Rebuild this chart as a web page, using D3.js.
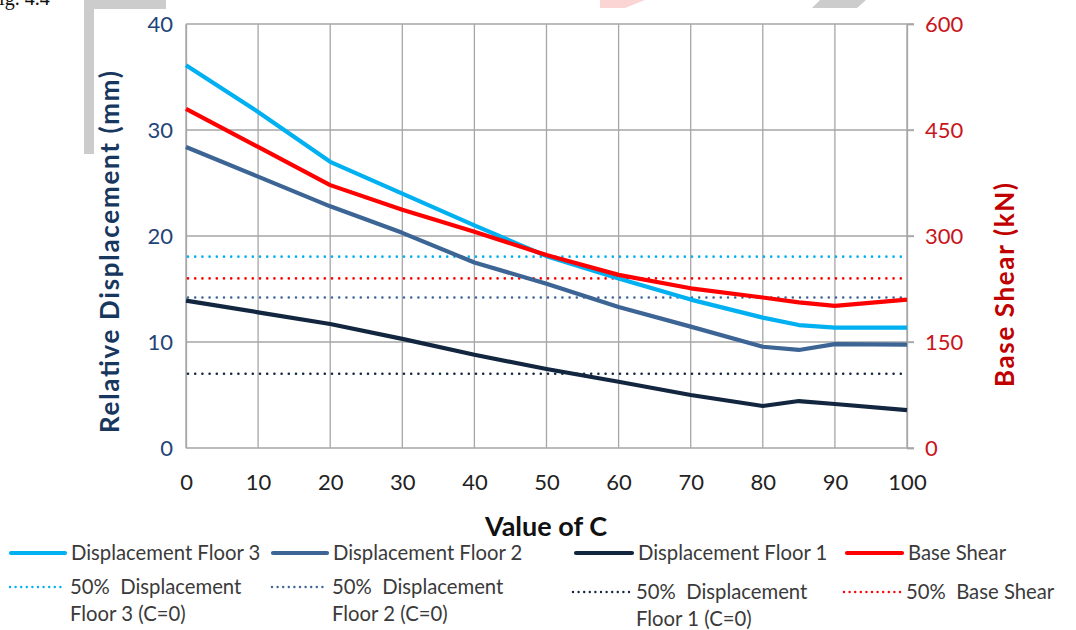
<!DOCTYPE html>
<html>
<head>
<meta charset="utf-8">
<script src="https://cdn.jsdelivr.net/npm/d3@7"></script>
<style>
  body { margin: 0; background: white; }
  svg { display: block; }
</style>
</head>
<body>
<svg></svg>
<script>
var w = 1076
var h = 630

// data
var cValues   = [0, 10, 20, 30, 40, 50, 60, 70, 80, 85, 90, 100]
var floor3    = [36.1, 31.7, 27.0, 24.0, 21.0, 18.1, 16.0, 14.0, 12.3, 11.6, 11.35, 11.35]
var floor2    = [28.4, 25.6, 22.8, 20.3, 17.5, 15.5, 13.3, 11.45, 9.55, 9.25, 9.8, 9.75]
var floor1    = [13.9, 12.8, 11.7, 10.3, 8.8, 7.45, 6.25, 5.0, 3.96, 4.43, 4.15, 3.58]
var baseShear = [480, 426, 372, 337, 306, 273, 245, 226, 213, 206, 201, 210]

// 50% of C=0 values (dotted lines)
var half3 = 18.05
var half2 = 14.2
var half1 = 7.0
var halfShear = 240

var xTicks = [0, 10, 20, 30, 40, 50, 60, 70, 80, 90, 100]
var leftTicks = [0, 10, 20, 30, 40]
var rightTicks = [0, 150, 300, 450, 600]

var cFloor3 = "#00b0f0"
var cFloor2 = "#3c6596"
var cFloor1 = "#12263f"
var cShear = "#ff0000"
var grid = "#a6a6a6"
var font = "Lato, 'Open Sans', sans-serif"

var pLeft = 186, pRight = 907, pTop = 24, pBottom = 448

var svg = d3.select("svg")
    .attr("width", w)
    .attr("height", h)

// bits of the page around the chart
svg.append("rect").attr("x", 84).attr("y", 0).attr("width", 10).attr("height", 154).attr("fill", "#cccccc")
svg.append("rect").attr("x", 84).attr("y", 0).attr("width", 82).attr("height", 9).attr("fill", "#cccccc")
svg.append("polygon").attr("points", "600,0 645,0 625,8 600,8").attr("fill", "#fbd4d4")
svg.append("polygon").attr("points", "820,0 866,0 857,8 812,8").attr("fill", "#cccccc")
svg.append("text").attr("x", -12).attr("y", 5)
    .style("font-family", "'Liberation Serif', serif").style("font-size", "20px")
    .attr("fill", "#111").text("Fig. 4.4")

var x = d3.scaleLinear().domain([0, 100]).range([pLeft, pRight])
var yL = d3.scaleLinear().domain([0, 40]).range([pBottom, pTop])
var yR = d3.scaleLinear().domain([0, 600]).range([pBottom, pTop])

// grid
svg.append("g").selectAll("line").data(xTicks).join("line")
    .attr("x1", d => x(d)).attr("x2", d => x(d))
    .attr("y1", pTop).attr("y2", pBottom)
    .attr("stroke", grid).attr("stroke-width", 1.3)
svg.append("g").selectAll("line").data(leftTicks).join("line")
    .attr("x1", pLeft).attr("x2", pRight + 7)
    .attr("y1", d => yL(d)).attr("y2", d => yL(d))
    .attr("stroke", grid).attr("stroke-width", 1.3)

// left axis labels
var gl = svg.append("g").attr("transform", "translate(" + pLeft + ",0)")
    .call(d3.axisLeft(yL).tickValues(leftTicks).tickSize(0).tickPadding(13))
gl.select(".domain").attr("stroke", grid).attr("stroke-width", 1.3)
gl.selectAll("text").style("font-family", font).style("font-size", "22px").attr("fill", "#1f4478")

// right axis labels
var gr = svg.append("g").attr("transform", "translate(" + pRight + ",0)")
    .call(d3.axisRight(yR).tickValues(rightTicks).tickSize(7).tickPadding(11))
gr.select(".domain").attr("stroke", grid).attr("stroke-width", 1.3)
gr.selectAll("line").attr("stroke", grid).attr("stroke-width", 1.3)
gr.selectAll("text").style("font-family", font).style("font-size", "22px").attr("fill", "#c8161d")

// x axis labels
var gx = svg.append("g").attr("transform", "translate(0," + pBottom + ")")
    .call(d3.axisBottom(x).tickValues(xTicks).tickSize(0).tickPadding(26))
gx.select(".domain").remove()
gx.selectAll("text").style("font-family", font).style("font-size", "22px").attr("fill", "#222")

// titles
svg.append("text").attr("x", 546).attr("y", 536).attr("text-anchor", "middle")
    .style("font-family", font).style("font-size", "27px").style("font-weight", "bold")
    .attr("fill", "#111").text("Value of C")
svg.append("text").attr("transform", "translate(119,252) rotate(-90)").attr("text-anchor", "middle")
    .style("font-family", font).style("font-size", "26px").style("font-weight", "bold")
    .attr("textLength", 362).attr("lengthAdjust", "spacing")
    .attr("fill", "#17375e").text("Relative Displacement (mm)")
svg.append("text").attr("transform", "translate(1014,285) rotate(-90)").attr("text-anchor", "middle")
    .style("font-family", font).style("font-size", "26px").style("font-weight", "bold")
    .attr("textLength", 204).attr("lengthAdjust", "spacing")
    .attr("fill", "#c00000").text("Base Shear (kN)")

// dotted 50% lines
var dotted = [
  {v: half3, s: yL, c: cFloor3},
  {v: halfShear, s: yR, c: cShear},
  {v: half2, s: yL, c: cFloor2},
  {v: half1, s: yL, c: cFloor1}
]
svg.append("g").selectAll("line").data(dotted).join("line")
    .attr("x1", pLeft + 2).attr("x2", pRight)
    .attr("y1", d => d.s(d.v)).attr("y2", d => d.s(d.v))
    .attr("stroke", d => d.c).attr("stroke-width", 2.6)
    .attr("stroke-dasharray", "0 7.2").attr("stroke-linecap", "round")

// series lines
function drawLine(vals, scale, color) {
  var line = d3.line()
      .x((d, i) => x(cValues[i]))
      .y(d => scale(d))
  svg.append("path").datum(vals)
      .attr("d", line)
      .attr("fill", "none")
      .attr("stroke", color)
      .attr("stroke-width", 4.2)
      .attr("stroke-linejoin", "round")
}
drawLine(floor1, yL, cFloor1)
drawLine(floor2, yL, cFloor2)
drawLine(floor3, yL, cFloor3)
drawLine(baseShear, yR, cShear)

// legend
var legend = [
  {x1: 11, x2: 65, y: 553, c: cFloor3, dot: false, lines: ["Displacement Floor 3"]},
  {x1: 273, x2: 327, y: 553, c: cFloor2, dot: false, lines: ["Displacement Floor 2"]},
  {x1: 576, x2: 632, y: 553, c: cFloor1, dot: false, lines: ["Displacement Floor 1"]},
  {x1: 847, x2: 902, y: 553, c: cShear, dot: false, lines: ["Base Shear"]},
  {x1: 10, x2: 64, y: 587, c: cFloor3, dot: true, lines: ["50%  Displacement", "Floor 3 (C=0)"]},
  {x1: 272, x2: 326, y: 587, c: cFloor2, dot: true, lines: ["50%  Displacement", "Floor 2 (C=0)"]},
  {x1: 573, x2: 630, y: 592, c: cFloor1, dot: true, lines: ["50%  Displacement", "Floor 1 (C=0)"]},
  {x1: 844, x2: 900, y: 592, c: cShear, dot: true, lines: ["50%  Base Shear"]}
]
var lg = svg.append("g").selectAll("g").data(legend).join("g")
lg.append("line")
    .attr("x1", d => d.x1).attr("x2", d => d.x2)
    .attr("y1", d => d.y).attr("y2", d => d.y)
    .attr("stroke", d => d.c)
    .attr("stroke-width", d => d.dot ? 2.4 : 4.2)
    .attr("stroke-dasharray", d => d.dot ? "0 5.6" : null)
    .attr("stroke-linecap", "round")
lg.each(function(d) {
  var t = d3.select(this).append("text")
      .attr("x", d.x2 + 6).attr("y", d.y + 7)
      .style("font-family", font).style("font-size", "20.3px")
      .style("white-space", "pre").attr("fill", "#3a3a3a")
  d.lines.forEach(function(s, i) {
    t.append("tspan").attr("x", d.x2 + 6).attr("dy", i == 0 ? 0 : 27).text(s)
  })
})
</script>
</body>
</html>
